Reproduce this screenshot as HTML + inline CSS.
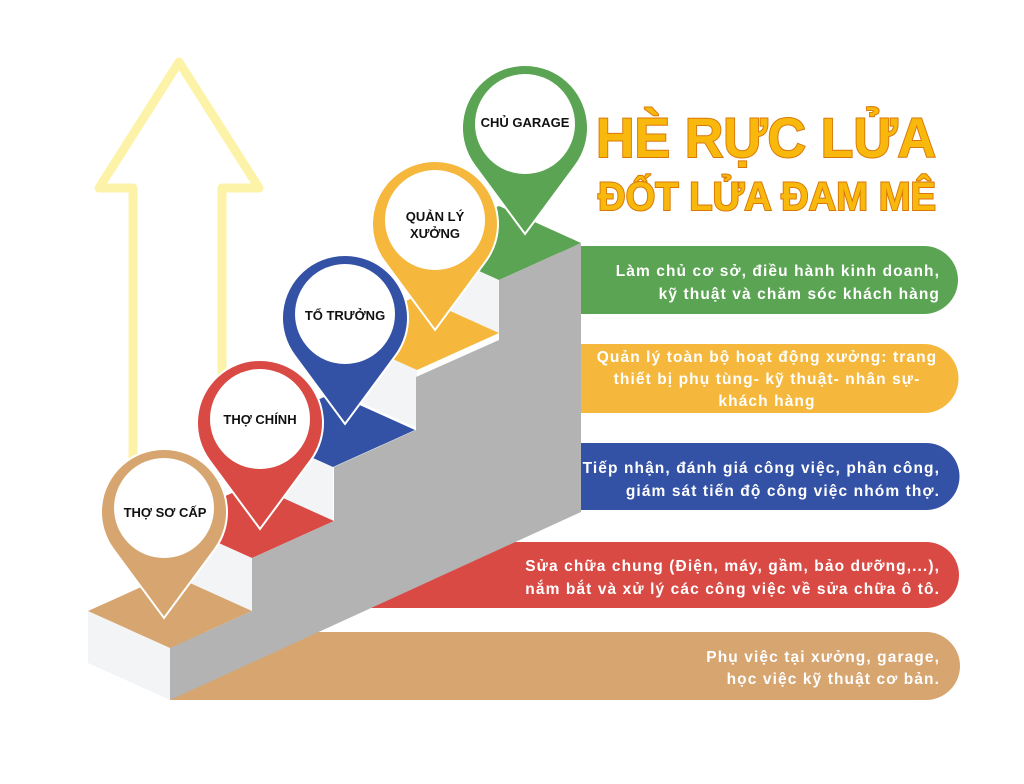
<!DOCTYPE html>
<html><head><meta charset="utf-8"><style>
html,body{margin:0;padding:0;background:#fff;}
svg{display:block;}
.bt{font-family:"Liberation Sans",sans-serif;font-weight:bold;fill:#fff;font-size:15.5px;letter-spacing:1.1px;}
.lb{font-family:"Liberation Sans",sans-serif;font-weight:bold;fill:#111;font-size:13px;text-anchor:middle;}
.t1{font-family:"Liberation Sans",sans-serif;font-weight:900;fill:#f8b90c;stroke:#d9770a;stroke-width:2px;paint-order:stroke;}
</style></head><body>
<svg width="1024" height="784" viewBox="0 0 1024 784" xmlns="http://www.w3.org/2000/svg">
<path d="M133,550 L133,188 L99,188 L179,62 L259,188 L222,188 L222,460" fill="none" stroke="#fdf3a8" stroke-width="9" stroke-linejoin="round"/>
<path d="M170,632 H926 A34,34 0 0 1 926,700 H170 Z" fill="#d6a570"/>
<path d="M330,542 H926 A33,33 0 0 1 926,608 H330 Z" fill="#d94a45"/>
<path d="M560,443 H926 A33.5,33.5 0 0 1 926,510 H560 Z" fill="#3452a5"/>
<path d="M560,344 H924 A34.5,34.5 0 0 1 924,413 H560 Z" fill="#f5b83d"/>
<path d="M560,246 H924 A34,34 0 0 1 924,314 H560 Z" fill="#5ba453"/>
<g>
<polygon points="417,243 499,280 499,333 417,296" fill="#f3f4f6"/>
<polygon points="417,243 499,206 581,243 499,280" fill="#5ba453"/>
<polygon points="335,333 417,370 417,428 335,391" fill="#f3f4f6"/>
<polygon points="335,333 417,296 499,333 417,370" fill="#f5b83d"/>
<polygon points="251,430 333,467 333,522 251,485" fill="#f3f4f6"/>
<polygon points="251,430 333,393 415,430 333,467" fill="#3452a5"/>
<polygon points="170,521 252,558 252,611 170,574" fill="#f3f4f6"/>
<polygon points="170,521 252,484 334,521 252,558" fill="#d94a45"/>
<polygon points="88,611 170,648 170,700 88,663" fill="#f3f4f6"/>
<polygon points="88,611 170,574 252,611 170,648" fill="#d6a570"/>
<polygon points="170,648 252,611 252,558 334,521 334,467 416,430 416,377 499,340 499,280 581,243 581,512 170,700" fill="#b3b3b3"/>
</g>
<g stroke="#fff" stroke-width="2">
<path d="M474.4,165.5 A63,63 0 1 1 575.6,165.5 L525,234 Z" fill="#5ba453"/>
<path d="M384.4,261.5 A63,63 0 1 1 485.6,261.5 L435,330 Z" fill="#f5b83d"/>
<path d="M294.4,355.5 A63,63 0 1 1 395.6,355.5 L345,424 Z" fill="#3452a5"/>
<path d="M209.4,460.5 A63,63 0 1 1 310.6,460.5 L260,529 Z" fill="#d94a45"/>
<path d="M113.4,549.5 A63,63 0 1 1 214.6,549.5 L164,618 Z" fill="#d6a570"/>
</g>
<g fill="#fff">
<circle cx="525" cy="124" r="50"/>
<circle cx="435" cy="220" r="50"/>
<circle cx="345" cy="314" r="50"/>
<circle cx="260" cy="419" r="50"/>
<circle cx="164" cy="508" r="50"/>
</g>
<text class="lb" x="525" y="127">CHỦ GARAGE</text>
<text class="lb" x="435" y="221">QUẢN LÝ</text>
<text class="lb" x="435" y="238">XƯỞNG</text>
<text class="lb" x="345" y="320">TỔ TRƯỞNG</text>
<text class="lb" x="260" y="424">THỢ CHÍNH</text>
<text class="lb" x="165" y="517">THỢ SƠ CẤP</text>
<text class="t1" x="596" y="157" font-size="56" textLength="340" lengthAdjust="spacingAndGlyphs">HÈ RỰC LỬA</text>
<text class="t1" x="598" y="210" font-size="40" textLength="338" lengthAdjust="spacingAndGlyphs">ĐỐT LỬA ĐAM MÊ</text>
<g class="bt" text-anchor="end">
<text x="940" y="276">Làm chủ cơ sở, điều hành kinh doanh,</text>
<text x="940" y="299">kỹ thuật và chăm sóc khách hàng</text>
<text x="940" y="473">Tiếp nhận, đánh giá công việc, phân công,</text>
<text x="940" y="496">giám sát tiến độ công việc nhóm thợ.</text>
<text x="940" y="571">Sửa chữa chung (Điện, máy, gầm, bảo dưỡng,...),</text>
<text x="940" y="594">nắm bắt và xử lý các công việc về sửa chữa ô tô.</text>
<text x="940" y="662">Phụ việc tại xưởng, garage,</text>
<text x="940" y="684">học việc kỹ thuật cơ bản.</text>
</g>
<g class="bt" text-anchor="middle">
<text x="767" y="362">Quản lý toàn bộ hoạt động xưởng: trang</text>
<text x="767" y="384">thiết bị phụ tùng- kỹ thuật- nhân sự-</text>
<text x="767" y="406">khách hàng</text>
</g>
</svg>
</body></html>
